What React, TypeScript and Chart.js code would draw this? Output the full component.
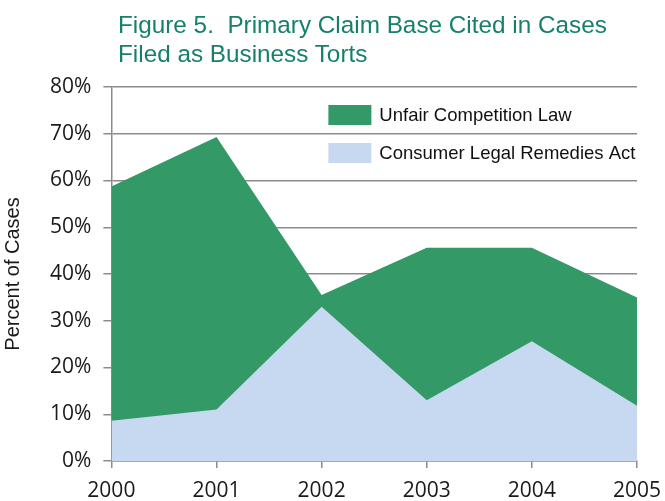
import React, { useEffect, useRef } from "react";
import { Chart, registerables } from "chart.js";

Chart.register(...registerables);

const years = ["2000", "2001", "2002", "2003", "2004", "2005"];
const unfairCompetitionLaw = [58.7, 69.3, 35.5, 45.6, 45.6, 35.0];
const consumerLegalRemediesAct = [8.6, 11.0, 33.0, 13.0, 25.6, 11.8];
const yTicks = [0, 10, 20, 30, 40, 50, 60, 70, 80];

const GREEN = "#339966";
const BLUE = "#c6d9f0";
const GRID = "#8c8c8c";

const insideLegend = {
  id: "insideLegend",
  afterDraw(chart: any) {
    const { ctx, chartArea: a } = chart;
    ctx.save();
    const x = a.left + 217;
    const y0 = a.top + 18;
    chart.data.datasets.forEach((ds: any, i: number) => {
      const y = y0 + i * 38;
      ctx.fillStyle = ds.backgroundColor;
      ctx.fillRect(x, y, 43, 20);
      ctx.fillStyle = "#111";
      ctx.font = '18.5px "Liberation Sans", Arial, sans-serif';
      ctx.textBaseline = "middle";
      ctx.textAlign = "left";
      ctx.fillText(ds.label, x + 51, y + 11);
    });
    ctx.restore();
  },
};

export default function App() {
  const ref = useRef<HTMLCanvasElement>(null);
  useEffect(() => {
    if (!ref.current) return;
    const chart = new Chart(ref.current, {
      type: "line",
      data: {
        labels: years,
        datasets: [
          {
            label: "Unfair Competition Law",
            data: unfairCompetitionLaw,
            backgroundColor: GREEN,
            borderColor: GREEN,
            borderWidth: 0,
            pointRadius: 0,
            fill: "origin",
            tension: 0,
            order: 2,
          },
          {
            label: "Consumer Legal Remedies Act",
            data: consumerLegalRemediesAct,
            backgroundColor: BLUE,
            borderColor: BLUE,
            borderWidth: 0,
            pointRadius: 0,
            fill: "origin",
            tension: 0,
            order: 1,
          },
        ],
      },
      options: {
        responsive: false,
        animation: false,
        layout: { padding: { top: 87, left: 1, right: 28, bottom: 0 } },
        plugins: {
          legend: { display: false },
          tooltip: { enabled: false },
          title: { display: false },
        },
        scales: {
          x: {
            type: "category",
            offset: false,
            afterFit(scale: any) {
              scale.height = 40;
              scale.paddingRight = 28;
              scale.paddingLeft = 0;
            },
            grid: {
              drawOnChartArea: false,
              drawTicks: true,
              tickLength: 7,
              color: GRID,
              lineWidth: 1.5,
            },
            border: { display: true, color: GRID, width: 1.5 },
            ticks: {
              color: "#1a1a1a",
              font: { family: '"Open Sans", sans-serif', size: 21 },
              padding: 10,
              maxRotation: 0,
              autoSkip: false,
            },
          },
          y: {
            min: 0,
            max: 80,
            afterBuildTicks(scale: any) {
              scale.ticks = yTicks.map((v) => ({ value: v }));
            },
            grid: {
              color: GRID,
              lineWidth: 1.5,
              drawTicks: true,
              tickLength: 8,
            },
            border: { display: true, color: GRID, width: 1.5 },
            ticks: {
              color: "#1a1a1a",
              font: { family: '"Open Sans", sans-serif', size: 21 },
              padding: 12,
              callback: (v: any) => v + "%",
            },
            title: {
              display: true,
              text: "Percent of Cases",
              color: "#1a1a1a",
              font: { family: '"Liberation Sans", Arial, sans-serif', size: 20 },
              padding: { top: 0, bottom: 13 },
            },
          },
        },
      },
      plugins: [insideLegend],
    });
    return () => chart.destroy();
  }, []);

  return (
    <div style={{ position: "absolute", left: 0, top: 0, width: 665, height: 501, background: "#fff" }}>
      <div
        style={{
          position: "absolute",
          left: 118,
          top: 10,
          fontFamily: '"Liberation Sans", Arial, sans-serif',
          fontSize: 24.3,
          lineHeight: "29px",
          color: "#16806c",
          whiteSpace: "pre",
        }}
      >
        {"Figure 5.  Primary Claim Base Cited in Cases\nFiled as Business Torts"}
      </div>
      <canvas ref={ref} width={665} height={501} style={{ display: "block" }} />
    </div>
  );
}
